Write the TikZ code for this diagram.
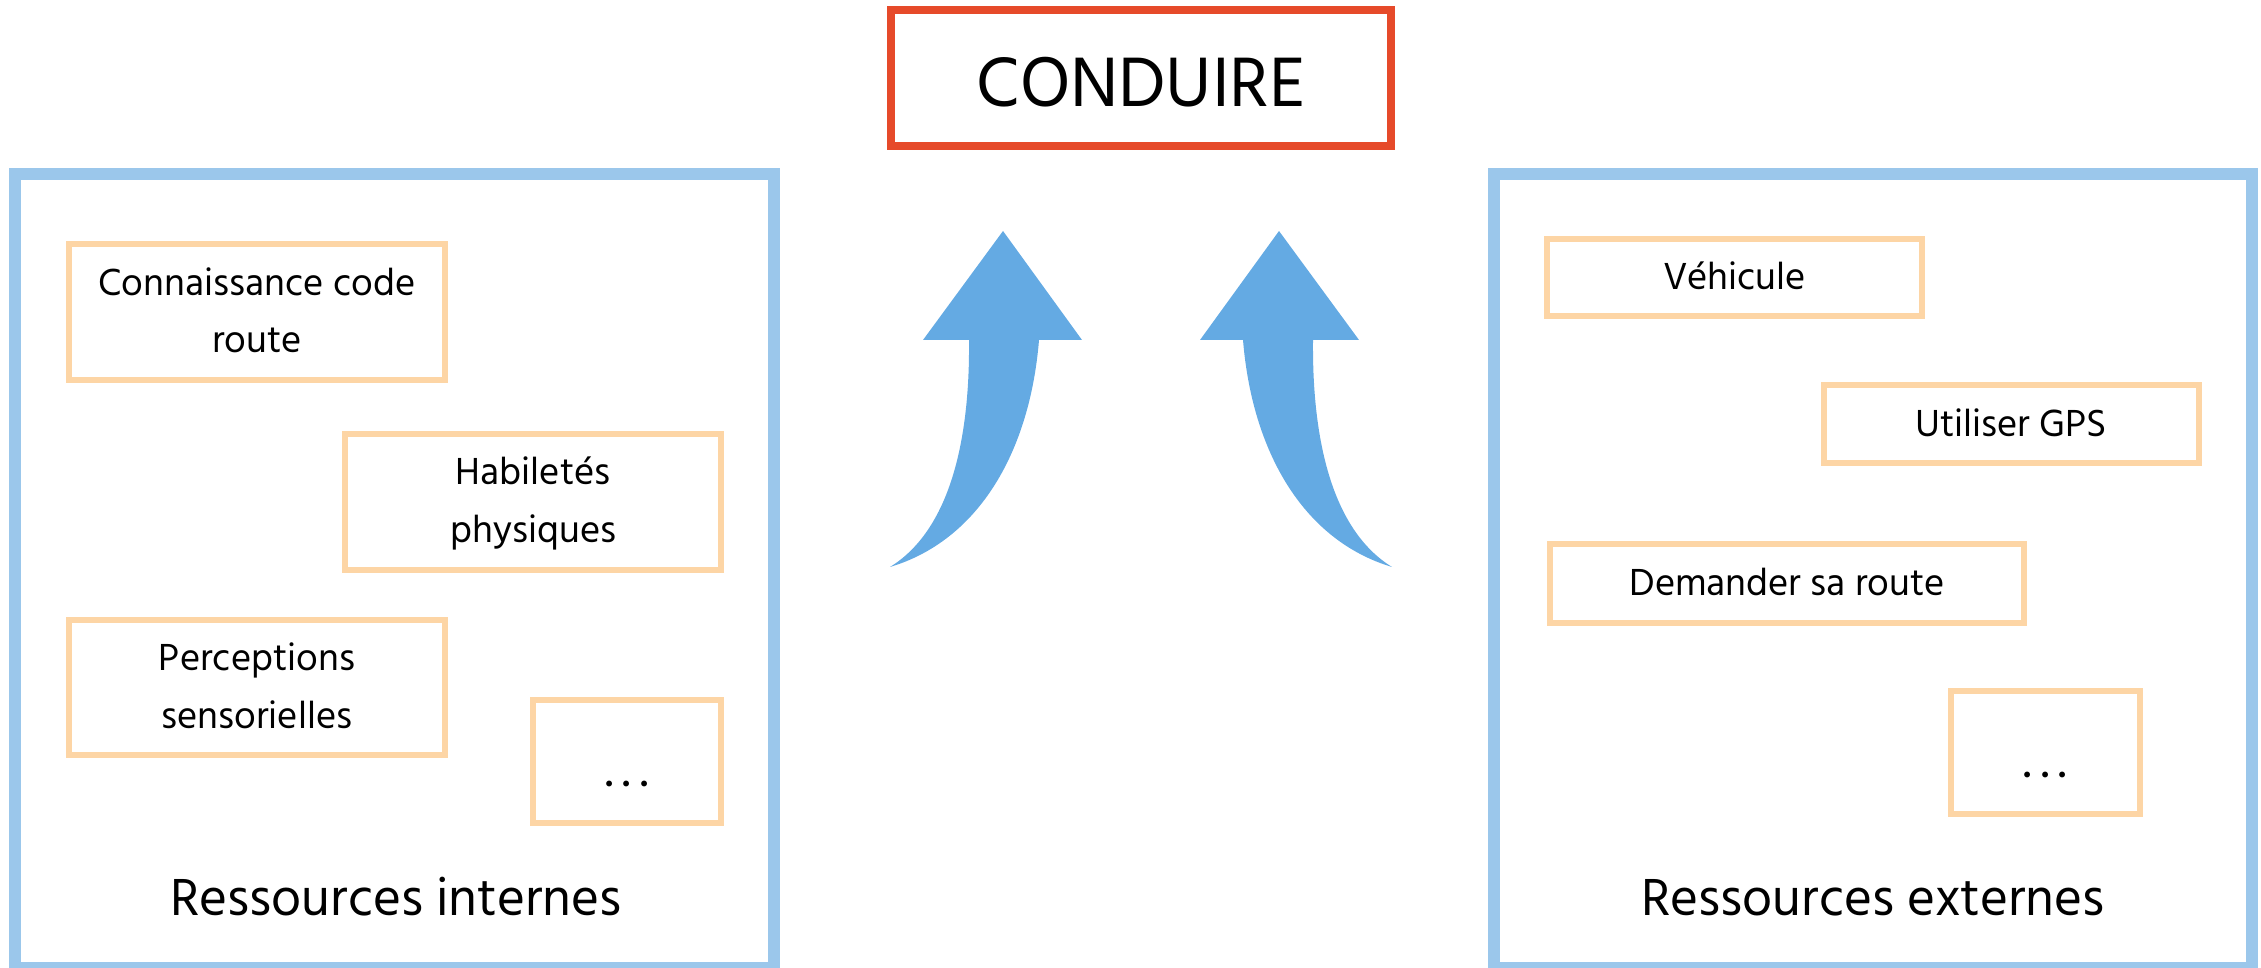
\documentclass[tikz,border=0pt]{standalone}
\usepackage{fontspec}
\setmainfont{Hind Madurai}
\definecolor{bigblue}{RGB}{155,199,235}
\definecolor{orangeC}{RGB}{253,213,165}
\definecolor{redC}{RGB}{230,74,42}
\definecolor{arrowblue}{RGB}{100,170,227}
\newcommand\lnA[1]{\rule{0pt}{0.24cm}\smash{#1}}
\newcommand\lnB[1]{\smash{#1}}
\newcommand\bigdots{{\fontsize{14}{14}\selectfont .\kern2.6pt.\kern2.6pt.}}
\begin{document}
\begin{tikzpicture}[x=0.01cm,y=-0.01cm,
  bigbox/.style={draw=bigblue, line width=0.12cm, inner sep=0pt},
  obox/.style={draw=orangeC, line width=0.06cm, inner sep=0pt, align=center,
    font=\fontsize{11}{16.36}\selectfont},
  dotbox/.style={obox, text height=0.5cm, text depth=0pt},
  redbox/.style={draw=redC, line width=0.08cm, inner sep=0pt,
    font=\fontsize{20.4}{26}\selectfont},
  lbl/.style={inner sep=0pt, font=\fontsize{15.2}{18}\selectfont},
  bigarrow/.style={fill=arrowblue}]
\useasboundingbox (0,0) rectangle (2261,968);

% containers
\node[bigbox, minimum width=7.59cm, minimum height=7.94cm] (intern) at (394.5,571) {};
\node[bigbox, minimum width=7.58cm, minimum height=7.94cm] (extern) at (1873,571) {};

% title
\node[redbox, minimum width=5.00cm, minimum height=1.355cm, text height=0.565cm, text depth=0pt] (conduire) at (1141,77.75) {CONDUIRE};

% internal resources
\node[obox, minimum width=3.76cm, minimum height=1.36cm] (code) at (257,312) {\lnA{Connaissance code}\\\lnB{route}};
\node[obox, minimum width=3.755cm, minimum height=1.355cm] (habil) at (533.25,501.75) {\lnA{Habiletés}\\\lnB{physiques}};
\node[obox, minimum width=3.76cm, minimum height=1.35cm] (percep) at (257,687.5) {\lnA{Perceptions}\\\lnB{sensorielles}};
\node[dotbox, minimum width=1.88cm, minimum height=1.23cm] (dotsA) at (627,761.5) {\bigdots};
\node[lbl, anchor=base] (lint) at (396,916) {Ressources internes};

% external resources
\node[obox, minimum width=3.75cm, minimum height=0.773cm] (vehic) at (1734.5,277.2) {\lnA{Véhicule}};
\node[obox, minimum width=3.75cm, minimum height=0.775cm] (gps) at (2011.25,424.25) {\lnA{Utiliser GPS}};
\node[obox, minimum width=4.735cm, minimum height=0.787cm] (demand) at (1787.25,583.35) {\lnA{Demander sa route}};
\node[dotbox, minimum width=1.885cm, minimum height=1.228cm] (dotsB) at (2045.25,752.4) {\bigdots};
\node[lbl, anchor=base] (lext) at (1873,915.3) {Ressources externes};

% curved block arrows
\fill[bigarrow] (1003,231) -- (1082,340) -- (1039,340)
  .. controls (1030,450) and (980,540) .. (890,567)
  .. controls (950,530) and (970,440) .. (969,340) -- (923,340) -- cycle;
\fill[bigarrow] (1279,231) -- (1200,340) -- (1243,340)
  .. controls (1252,450) and (1302,540) .. (1392,567)
  .. controls (1332,530) and (1312,440) .. (1313,340) -- (1359,340) -- cycle;
\end{tikzpicture}
\end{document}
